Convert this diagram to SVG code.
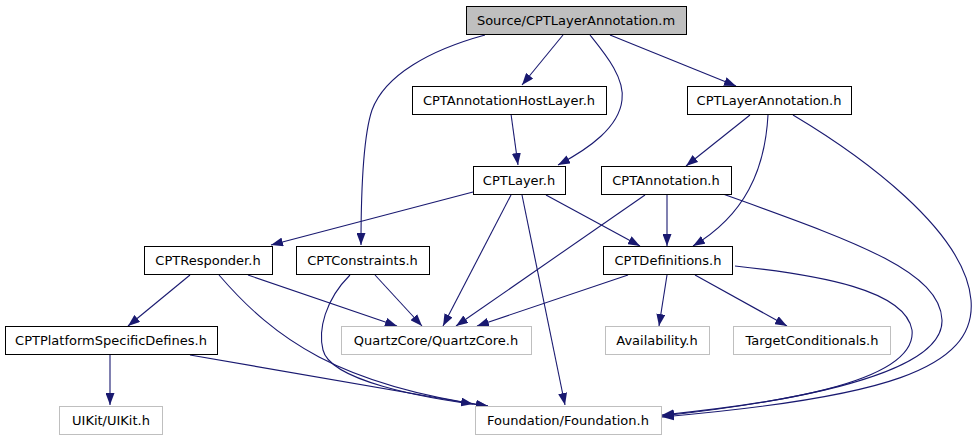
<svg xmlns="http://www.w3.org/2000/svg" width="977" height="443" viewBox="0 0 977 443">
<style>
.n rect{fill:#fff;stroke:#000;stroke-width:1}
.n.ext rect{stroke:#bfbfbf}
.n.root rect{fill:#bfbfbf}
.n text{font-family:"DejaVu Sans",sans-serif;font-size:13px;fill:#000;text-anchor:middle}
#edges path{fill:none;stroke:#191970;stroke-width:1.1;marker-end:url(#arr)}
</style>
<defs>
<marker id="arr" markerUnits="userSpaceOnUse" markerWidth="12" markerHeight="9" refX="12" refY="4.5" orient="auto">
<path d="M0,0 L12,4.5 L0,9 z" fill="#191970"/>
</marker>
</defs>
<rect width="977" height="443" fill="#fff"/>
<g id="edges">
<path d="M563,35 L522,85"/>
<path d="M590,35 C606,55 625,78 622,100 C619,127 590,148 558,165"/>
<path d="M485,35 C430,50 385,75 372,110 C362,140 361,200 361,245"/>
<path d="M610,35 L736,86"/>
<path d="M511,114 L518,165"/>
<path d="M750,115 L686,166"/>
<path d="M768,115 C765,170 745,215 693,246"/>
<path d="M793,115 C860,155 965,230 971,300 C977,370 880,398 662,417"/>
<path d="M473,192 L271,245"/>
<path d="M511,195 L443,326"/>
<path d="M522,195 L565,405"/>
<path d="M546,195 L640,246"/>
<path d="M667,195 L667,246"/>
<path d="M645,195 L456,326"/>
<path d="M723,194 C850,240 940,270 942,320 C944,380 760,405 662,416"/>
<path d="M628,275 L477,326"/>
<path d="M667,275 L659,326"/>
<path d="M695,275 L787,326"/>
<path d="M735,266 C820,275 905,290 912,330 C918,385 760,405 662,415"/>
<path d="M190,275 L128,326"/>
<path d="M248,275 L397,326"/>
<path d="M219,275 C275,340 340,385 488,406"/>
<path d="M375,275 L422,326"/>
<path d="M350,275 C325,300 318,330 323,350 C330,380 420,398 488,406"/>
<path d="M110,355 L110,405"/>
<path d="M190,355 L473,404"/>
</g>
<g id="n_src" class="n root"><rect x="466.5" y="6.5" width="220" height="28"/><text x="576" y="25">Source/CPTLayerAnnotation.m</text></g>
<g id="n_host" class="n"><rect x="412.5" y="86.5" width="194" height="28"/><text x="509" y="105">CPTAnnotationHostLayer.h</text></g>
<g id="n_layann" class="n"><rect x="687.5" y="86.5" width="164" height="28"/><text x="769" y="105">CPTLayerAnnotation.h</text></g>
<g id="n_layer" class="n"><rect x="473.5" y="166.5" width="92" height="28"/><text x="519" y="185">CPTLayer.h</text></g>
<g id="n_ann" class="n"><rect x="601.5" y="166.5" width="130" height="28"/><text x="666" y="185">CPTAnnotation.h</text></g>
<g id="n_resp" class="n"><rect x="144.5" y="246.5" width="128" height="28"/><text x="208" y="265">CPTResponder.h</text></g>
<g id="n_cons" class="n"><rect x="296.5" y="246.5" width="133" height="28"/><text x="362.5" y="265">CPTConstraints.h</text></g>
<g id="n_defs" class="n"><rect x="603.5" y="246.5" width="129" height="28"/><text x="668" y="265">CPTDefinitions.h</text></g>
<g id="n_plat" class="n"><rect x="5.5" y="326.5" width="212" height="28"/><text x="111" y="345">CPTPlatformSpecificDefines.h</text></g>
<g id="n_qc" class="n ext"><rect x="341.5" y="326.5" width="190" height="28"/><text x="436" y="345">QuartzCore/QuartzCore.h</text></g>
<g id="n_avail" class="n ext"><rect x="605.5" y="326.5" width="104" height="28"/><text x="657" y="345">Availability.h</text></g>
<g id="n_tc" class="n ext"><rect x="733.5" y="326.5" width="157" height="28"/><text x="812" y="345">TargetConditionals.h</text></g>
<g id="n_uikit" class="n ext"><rect x="59.5" y="406.5" width="103" height="28"/><text x="111" y="425">UIKit/UIKit.h</text></g>
<g id="n_found" class="n ext"><rect x="475.5" y="406.5" width="186" height="28"/><text x="568" y="425">Foundation/Foundation.h</text></g>
</svg>
